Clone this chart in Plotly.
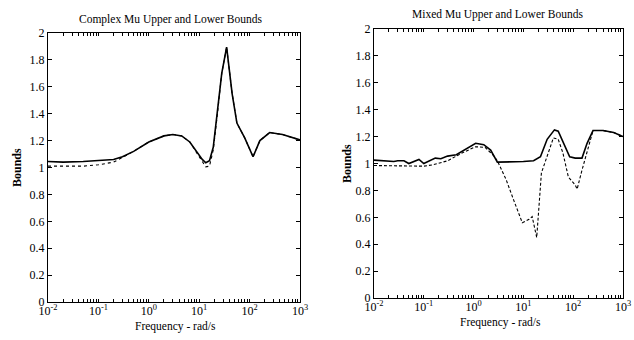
import plotly.graph_objects as go

# ---- data ----
left_freq_upper = [0.01, 0.02, 0.05, 0.1, 0.15, 0.2, 0.3, 0.5, 1.0, 2.0, 3.0, 4.5, 6.5, 9.0,
                   11.5, 13.5, 16, 19, 23, 28, 35, 45, 56, 80, 117, 160, 250, 450, 1000]
left_upper = [1.045, 1.04, 1.045, 1.05, 1.055, 1.06, 1.08, 1.12, 1.19, 1.235, 1.245, 1.235, 1.19, 1.12,
              1.06, 1.035, 1.05, 1.15, 1.40, 1.70, 1.895, 1.55, 1.33, 1.22, 1.08, 1.20, 1.26, 1.245, 1.205]
left_freq_lower = [0.01, 0.05, 0.1, 0.2, 0.3, 0.5, 1.0, 2.0, 3.0, 4.5, 6.5, 9.0,
                   11.5, 13.5, 16, 19, 23, 28, 35, 45, 56, 80, 117, 160, 250, 450, 1000]
left_lower = [1.01, 1.01, 1.02, 1.04, 1.075, 1.12, 1.19, 1.235, 1.245, 1.235, 1.19, 1.11,
              1.04, 1.005, 1.01, 1.13, 1.40, 1.70, 1.895, 1.55, 1.33, 1.22, 1.08, 1.20, 1.26, 1.245, 1.205]

right_freq_upper = [0.01, 0.015, 0.02, 0.025, 0.03, 0.04, 0.05, 0.065, 0.08, 0.1, 0.13, 0.17, 0.22,
                    0.3, 0.45, 0.7, 1.1, 1.6, 2.2, 3.0, 5, 10, 16, 22, 30, 42, 50, 65, 85, 110,
                    150, 190, 250, 400, 650, 1000]
right_upper = [1.025, 1.02, 1.02, 1.015, 1.02, 1.02, 1.0, 1.02, 1.03, 1.0, 1.02, 1.04, 1.035,
               1.055, 1.065, 1.11, 1.15, 1.14, 1.10, 1.01, 1.01, 1.015, 1.02, 1.05, 1.18, 1.25, 1.24, 1.15, 1.05, 1.04,
               1.04, 1.15, 1.245, 1.245, 1.23, 1.20]
right_freq_lower = [0.01, 0.05, 0.1, 0.15, 0.3, 0.6, 1.1, 1.7, 2.5, 3.0, 4.5, 6.5, 9.5, 13, 15, 18.5,
                    23, 40, 50, 62, 80, 110, 120, 150, 185, 250, 400, 650, 1000]
right_lower = [0.985, 0.98, 0.98, 0.99, 1.02, 1.08, 1.125, 1.12, 1.06, 1.02, 0.88, 0.72, 0.56, 0.585, 0.605, 0.45,
               0.93, 1.19, 1.18, 1.08, 0.90, 0.84, 0.81, 0.95, 1.08, 1.245, 1.245, 1.23, 1.20]

x_major_vals = [0.01, 0.1, 1, 10, 100, 1000]
x_major_text = ["10<sup>-2</sup>", "10<sup>-1</sup>", "10<sup>0</sup>", "10<sup>1</sup>",
                "10<sup>2</sup>", "10<sup>3</sup>"]
x_minor_mult = [2, 3, 4, 5, 6, 7, 8, 9]
y_tickvals = [0, 0.2, 0.4, 0.6, 0.8, 1, 1.2, 1.4, 1.6, 1.8, 2]
y_ticktext = ["0", "0.2", "0.4", "0.6", "0.8", "1", "1.2", "1.4", "1.6", "1.8", "2"]

# all x ticks (major labelled, minor blank)
x_tickvals = list(x_major_vals)
x_ticktext = list(x_major_text)
for d in x_major_vals[:-1]:
    for m in x_minor_mult:
        x_tickvals.append(m * d)
        x_ticktext.append("")

FONT = "Liberation Serif"
W, H = 634, 340

fig = go.Figure()
fig.add_trace(go.Scatter(x=left_freq_upper, y=left_upper, mode="lines",
                         line=dict(color="black", width=1.6), xaxis="x", yaxis="y", showlegend=False))
fig.add_trace(go.Scatter(x=left_freq_lower, y=left_lower, mode="lines",
                         line=dict(color="black", width=1.1, dash="dot"), xaxis="x", yaxis="y", showlegend=False))
fig.add_trace(go.Scatter(x=right_freq_upper, y=right_upper, mode="lines",
                         line=dict(color="black", width=1.6), xaxis="x2", yaxis="y2", showlegend=False))
fig.add_trace(go.Scatter(x=right_freq_lower, y=right_lower, mode="lines",
                         line=dict(color="black", width=1.1, dash="3px,2px"), xaxis="x2", yaxis="y2", showlegend=False))

def xax(domain, anchor):
    return dict(type="log", range=[-2, 3], domain=domain, anchor=anchor,
                tickmode="array", tickvals=x_tickvals, ticktext=x_ticktext,
                ticks="inside", ticklen=3, tickwidth=1, ticklabelstandoff=-2,
                showline=True, linecolor="black", linewidth=1, mirror="ticks",
                showgrid=False, zeroline=False, tickcolor="black", automargin=False,
                tickfont=dict(family=FONT, size=12, color="black"))

def yax(domain, anchor):
    return dict(range=[0, 2], domain=domain, anchor=anchor,
                tickvals=y_tickvals, ticktext=y_ticktext, ticks="inside", ticklen=4,
                showline=True, linecolor="black", linewidth=1, mirror="ticks",
                showgrid=False, zeroline=False, tickcolor="black", automargin=False,
                tickfont=dict(family=FONT, size=12, color="black"))

def label(text, x, y, size=11.5, angle=0):
    return dict(text=text, x=x / W, y=1 - y / H, xref="paper", yref="paper",
                xanchor="center", yanchor="middle", textangle=angle,
                showarrow=False, font=dict(family=FONT, size=size, color="black"))

fig.update_layout(
    width=W, height=H,
    margin=dict(l=0, r=0, t=0, b=0, pad=0, autoexpand=False),
    paper_bgcolor="white", plot_bgcolor="white",
    xaxis=xax([48 / W, 300 / W], "y"),
    yaxis=yax([(H - 302) / H, (H - 33) / H], "x"),
    xaxis2=xax([374 / W, 623 / W], "y2"),
    yaxis2=yax([(H - 298) / H, (H - 29) / H], "x2"),
    annotations=[
        label("Complex Mu Upper and Lower Bounds", 171, 19),
        label("Mixed Mu Upper and Lower Bounds", 497, 15),
        label("Frequency - rad/s", 175, 326),
        label("Frequency - rad/s", 500, 322),
        label("<b>Bounds</b>", 17, 168, size=12, angle=-90),
        label("<b>Bounds</b>", 347, 164, size=12, angle=-90),
    ],
)

fig.write_html("out.html")
